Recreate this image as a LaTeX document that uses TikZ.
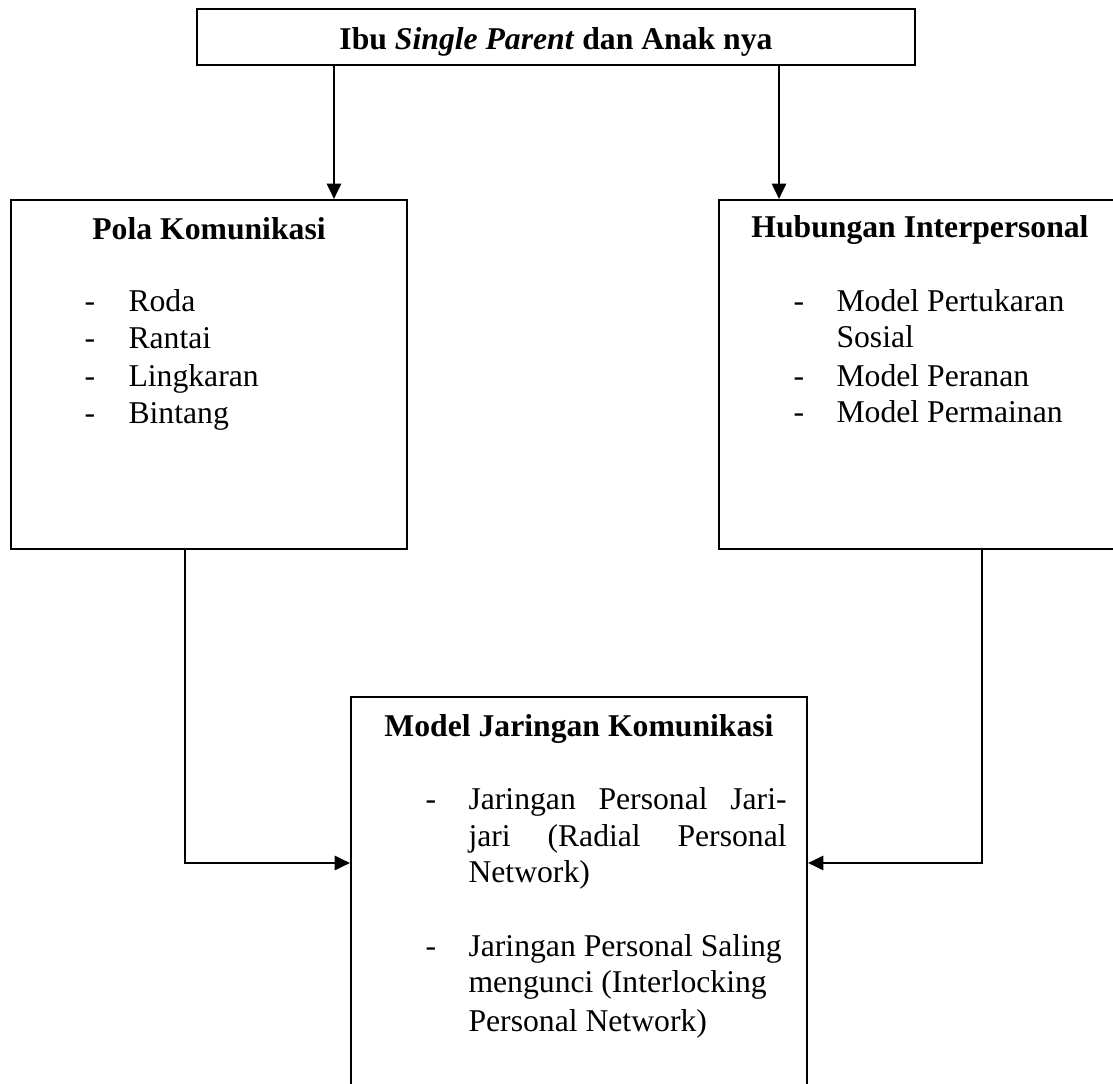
\documentclass[tikz,border=0pt]{standalone}
\usepackage{fontspec}
\setmainfont{Liberation Serif}
\usetikzlibrary{arrows.meta,fit}
\tikzset{
  box/.style={draw, line width=0.8pt, inner sep=0pt},
  conn/.style={line width=0.8pt, -{Triangle[length=5.8pt, width=5.4pt]}},
  txt/.style={inner sep=0pt, anchor=base west, font=\fontsize{12}{13.8}\selectfont},
  head/.style={inner sep=0pt, anchor=base, font=\fontsize{12}{13.8}\selectfont\bfseries},
}
\begin{document}
\begin{tikzpicture}[x=0.3788pt, y=-0.3788pt]
    \useasboundingbox (0, 0) rectangle (1113, 1084);
    \clip (0, 0) rectangle (1113, 1084);
    \node[box, fit={(197, 9) (915, 65)}] (top) {};
    \node[box, fit={(11, 200) (407, 549)}] (pola) {};
    \node[box, fit={(719, 200) (1116, 549)}] (hubungan) {};
    \node[box, fit={(351, 697) (807, 1140)}] (model) {};
    \node[head] (top-title) at (556, 50) {Ibu \textit{Single Parent} dan Anak nya};
    \node[head] (pola-title) at (209, 240) {Pola Komunikasi};
    \node[head] (hubungan-title) at (920, 238) {Hubungan Interpersonal};
    \node[head] (model-title) at (579, 737) {Model Jaringan Komunikasi};
    \node[txt] (pola-d1) at (84, 312) {-};
    \node[txt] (pola-d2) at (84, 349) {-};
    \node[txt] (pola-d3) at (84, 387) {-};
    \node[txt] (pola-d4) at (84, 424) {-};
    \node[txt] (pola-1) at (128, 312) {Roda};
    \node[txt] (pola-2) at (128, 349) {Rantai};
    \node[txt] (pola-3) at (128, 387) {Lingkaran};
    \node[txt] (pola-4) at (128, 424) {Bintang};
    \node[txt] (hubungan-d1) at (793, 312) {-};
    \node[txt] (hubungan-d2) at (793, 387) {-};
    \node[txt] (hubungan-d3) at (793, 423) {-};
    \node[txt] (hubungan-1a) at (836, 312) {Model Pertukaran};
    \node[txt] (hubungan-1b) at (836, 348) {Sosial};
    \node[txt] (hubungan-2) at (836, 387) {Model Peranan};
    \node[txt] (hubungan-3) at (836, 423) {Model Permainan};
    \node[txt] (model-d1) at (425, 810) {-};
    \node[txt] (model-d2) at (425, 957) {-};
    \node[txt] (model-1a) at (468, 810) {\makebox[120.5pt][s]{Jaringan Personal Jari-}};
    \node[txt] (model-1b) at (468, 847) {\makebox[120.5pt][s]{jari (Radial Personal}};
    \node[txt] (model-1c) at (468, 883) {Network)};
    \node[txt] (model-2a) at (468, 957) {Jaringan Personal Saling};
    \node[txt] (model-2b) at (468, 993) {mengunci (Interlocking};
    \node[txt] (model-2c) at (468, 1032) {Personal Network)};
    \coordinate (aL) at (334, 0);
    \coordinate (aR) at (779, 0);
    \coordinate (jL) at (185, 863);
    \coordinate (jR) at (982, 863);
    \draw[conn] (aL |- top.south) to (aL |- pola.north);
    \draw[conn] (aR |- top.south) to (aR |- hubungan.north);
    \draw[conn] (jL |- pola.south) |- (jL -| model.west);
    \draw[conn] (jR |- hubungan.south) |- (jR -| model.east);
\end{tikzpicture}
\end{document}
